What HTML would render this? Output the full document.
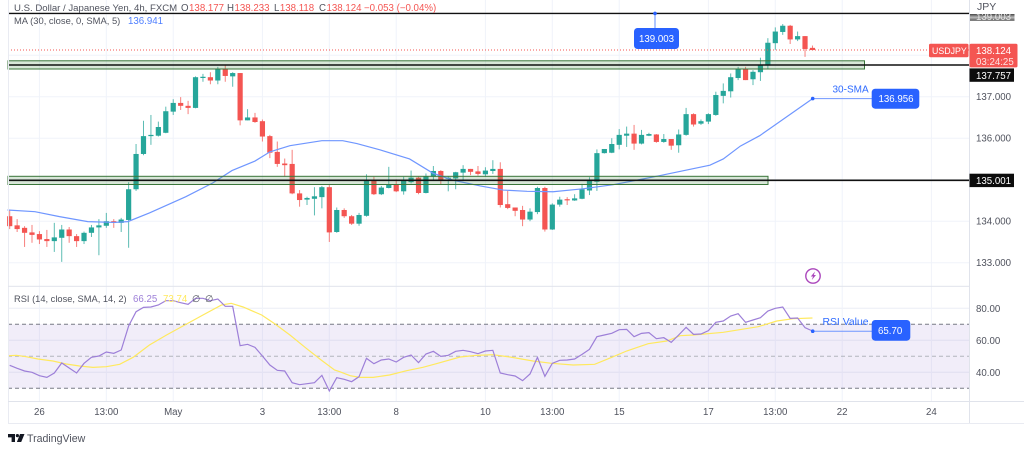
<!DOCTYPE html>
<html lang="en">
<head>
<meta charset="utf-8">
<title>USDJPY 4h chart</title>
<style>
html,body{margin:0;padding:0;background:#fff;width:1024px;height:452px;overflow:hidden}
svg{display:block;font-family:"Liberation Sans",sans-serif;filter:blur(0.3px)}
text{font-size:9.7px;fill:#50535e}
.w{fill:#fff}
.lbl{fill:#2f6bff}
</style>
</head>
<body>
<svg id="chart" xmlns="http://www.w3.org/2000/svg" width="1024" height="452" viewBox="0 0 1024 452">
  <g id="grid"></g>
  <rect x="8" y="324.3" width="961" height="64" fill="#9575cd" fill-opacity="0.13"/>
  <g id="rsi-guides" stroke-dasharray="4 3" stroke-width="1">
    <line x1="8" x2="969" y1="324.3" y2="324.3" stroke="#787b86"/>
    <line x1="8" x2="969" y1="356.3" y2="356.3" stroke="#b2b5be"/>
    <line x1="8" x2="969" y1="388.3" y2="388.3" stroke="#787b86"/>
  </g>
  <g id="candles"></g>
  <path id="ma-line" fill="none" stroke="#6f96ff" stroke-width="1.2"/>
  <path id="rsi-sma-line" fill="none" stroke="#ffe95e" stroke-width="1.2"/>
  <path id="rsi-line" fill="none" stroke="#9d7fd8" stroke-width="1.2"/>

  <line x1="8" x2="969" y1="50" y2="50" stroke="#f45552" stroke-width="1" stroke-dasharray="1 2"/>
  <rect x="8" y="60.8" width="856.5" height="8.2" fill="#4c8c4c" fill-opacity="0.22" stroke="#3a763a" stroke-width="1"/>
  <rect x="8" y="176.3" width="760" height="8.2" fill="#4c8c4c" fill-opacity="0.22" stroke="#3a763a" stroke-width="1"/>
  <line x1="8" x2="969" y1="13.4" y2="13.4" stroke="#111" stroke-width="1.4"/>
  <line x1="8" x2="969" y1="65" y2="65" stroke="#111" stroke-width="1.4"/>
  <line x1="8" x2="969" y1="180.3" y2="180.3" stroke="#111" stroke-width="1.6"/>

  <rect x="8" y="0" width="1" height="423" fill="#e9ebf2"/>
  <rect x="969" y="0" width="1" height="423" fill="#e0e3eb"/>
  <rect x="8" y="285.8" width="961" height="1" fill="#e0e3eb"/>
  <rect x="8" y="401" width="1016" height="1" fill="#e0e3eb"/>
  <rect x="8" y="423" width="1016" height="1" fill="#e9ebf2"/>

  <g>
    <text x="14" y="11" style="font-size:9.6px">U.S. Dollar / Japanese Yen, 4h, FXCM</text>
    <text x="181" y="11">O<tspan fill="#f45552" dx="0.5">138.177</tspan></text>
    <text x="227" y="11">H<tspan fill="#f45552" dx="0.5">138.233</tspan></text>
    <text x="274" y="11">L<tspan fill="#f45552" dx="0.5">138.118</tspan></text>
    <text x="319" y="11">C<tspan fill="#f45552" dx="0.5">138.124</tspan></text>
    <text x="364" y="11" style="fill:#f45552">−0.053 (−0.04%)</text>
    <text x="14" y="24" style="font-size:9.4px">MA (30, close, 0, SMA, 5)</text>
    <text x="128" y="24" style="fill:#4f7fff">136.941</text>
  </g>
  <g>
    <text x="14" y="302" style="font-size:9.3px">RSI (14, close, SMA, 14, 2)</text>
    <text x="133" y="302" style="fill:#9d7fd8">66.25</text>
    <text x="163" y="302" style="fill:#ffe95e">73.74</text>
    <text x="192" y="302">∅</text>
    <text x="205" y="302">∅</text>
  </g>

  <g id="price-axis"></g>
  <g id="rsi-axis"></g>
  <g id="time-axis"></g>
  <text x="977" y="10" style="font-size:10.5px">JPY</text>

  <g>
    <defs>
      <linearGradient id="clipFade" x1="0" y1="0" x2="0" y2="1">
        <stop offset="0" stop-color="#444"/><stop offset="0.5" stop-color="#bbb"/><stop offset="1" stop-color="#555"/>
      </linearGradient>
      <clipPath id="clip139"><rect x="969" y="14" width="46" height="7"/></clipPath>
    </defs>
    <rect x="970" y="14" width="44.5" height="6.8" fill="url(#clipFade)"/>
    <text clip-path="url(#clip139)" x="976" y="20" style="fill:#e6e6e6">139.003</text>
  </g>

  <g>
    <rect x="929" y="43.7" width="39.5" height="13.6" rx="1.5" fill="#f45552"/>
    <text class="w" x="932" y="54" style="font-size:8.8px">USDJPY</text>
    <rect x="969.5" y="43.7" width="48" height="23.7" rx="1.5" fill="#f45552"/>
    <text class="w" x="976" y="54">138.124</text>
    <text class="w" x="976" y="65" style="fill:#ffe2e1">03:24:25</text>
  </g>
  <g>
    <rect x="969.5" y="68.4" width="44.5" height="13.4" fill="#0c0c0c"/>
    <text class="w" x="976" y="78.8">137.757</text>
    <rect x="969.5" y="173.7" width="44.5" height="13.4" fill="#0c0c0c"/>
    <text class="w" x="976" y="184">135.001</text>
  </g>

  <g>
    <line x1="655" x2="655" y1="13.4" y2="28" stroke="#5f8cff" stroke-width="1"/>
    <circle cx="655" cy="13.4" r="1.8" fill="#2962ff"/>
    <rect x="634" y="28" width="45" height="21" rx="3.5" fill="#2962ff"/>
    <text class="w" x="639" y="42">139.003</text>
  </g>
  <g>
    <line x1="812.7" x2="872" y1="98.6" y2="98.6" stroke="#6f96ff" stroke-width="1"/>
    <circle cx="812.7" cy="98.6" r="1.8" fill="#2962ff"/>
    <text class="lbl" x="832.5" y="92.5" style="font-size:10px">30-SMA</text>
    <rect x="871.7" y="88.7" width="47.6" height="20" rx="3.5" fill="#2962ff"/>
    <text class="w" x="878.5" y="102">136.956</text>
  </g>
  <g>
    <line x1="812.7" x2="872" y1="331.2" y2="331.2" stroke="#6f96ff" stroke-width="1"/>
    <circle cx="812.7" cy="331.2" r="1.8" fill="#2962ff"/>
    <text class="lbl" x="822.5" y="325" style="font-size:10.4px">RSI Value</text>
    <rect x="871.7" y="320" width="38.6" height="20.7" rx="3.5" fill="#2962ff"/>
    <text class="w" x="878" y="334">65.70</text>
  </g>

  <g>
    <circle cx="813" cy="276" r="7.2" fill="#fff" stroke="#ab47bc" stroke-width="1.4"/>
    <path d="M815 271.5l-4.2 5h2.2l-1.2 3.5 4.2-5h-2.2z" fill="#ab47bc"/>
  </g>

  <g>
    <path d="M8 434h7v8h-3.4v-4.6H8zM20 434h4.5l-3.3 8h-4.3z" fill="#131722"/>
    <circle cx="17.4" cy="435.6" r="1.6" fill="#131722"/>
    <text x="27" y="442" style="font-size:10.6px;fill:#50535e">TradingView</text>
  </g>
</svg>
<script>
var opens = [134.12,133.90,133.84,133.73,133.69,133.57,133.52,133.60,133.80,133.64,133.52,133.72,133.85,133.89,134.00,133.96,134.03,134.77,135.62,136.05,136.06,136.13,136.64,136.85,136.78,136.73,137.47,137.47,137.39,137.68,137.49,137.57,136.43,136.50,136.41,136.05,135.67,135.39,135.38,134.67,134.52,134.54,134.58,134.82,133.74,134.27,134.12,133.94,134.13,134.97,134.65,134.80,134.88,134.72,134.94,135.05,134.68,135.07,135.21,135.02,135.03,135.17,135.26,135.20,135.13,135.21,135.26,134.41,134.33,134.27,134.04,134.22,134.80,133.80,134.40,134.53,134.50,134.54,134.74,134.95,135.64,135.65,135.84,136.06,136.11,135.87,136.06,136.09,135.91,135.98,135.83,136.08,136.58,136.35,136.40,136.56,137.02,137.13,137.45,137.67,137.42,137.59,137.75,138.29,138.56,138.71,138.38,138.46,138.177];
var highs = [134.27,134.05,133.88,133.91,133.76,133.79,133.96,133.91,133.86,133.69,133.75,133.91,134.05,134.20,134.05,134.08,134.94,135.86,136.42,136.56,136.40,136.76,136.94,136.99,136.90,137.49,137.55,137.59,137.72,137.76,137.59,137.57,136.70,136.61,136.45,136.08,135.92,135.51,135.72,134.75,134.59,134.82,134.85,134.87,134.33,134.31,134.15,134.20,135.13,135.07,134.85,135.31,135.01,135.07,135.22,135.07,135.15,135.33,135.23,135.09,135.19,135.35,135.26,135.33,135.30,135.47,135.42,134.73,134.33,134.37,134.31,134.83,134.83,134.43,134.59,134.58,134.65,134.90,135.06,135.73,135.74,136.00,136.22,136.28,136.32,136.20,136.13,136.10,136.10,135.98,136.21,136.73,136.60,136.45,136.60,137.12,137.32,137.56,137.72,137.72,137.64,137.94,138.41,138.67,138.75,138.73,138.57,138.46,138.233];
var lows = [133.81,133.74,133.38,133.48,133.45,133.38,133.26,133.02,133.48,133.38,133.45,133.62,133.18,133.84,133.84,133.74,133.36,134.73,135.59,135.84,136.04,136.12,136.56,136.68,136.58,136.72,137.36,137.30,137.30,137.36,137.24,136.31,136.43,136.37,135.92,135.52,135.31,135.07,134.65,134.35,134.39,134.14,134.31,133.50,133.72,134.08,133.91,133.89,134.11,134.63,134.63,134.79,134.70,134.64,134.91,134.65,134.67,134.98,134.89,134.72,134.77,134.98,135.11,135.10,135.07,135.14,134.33,134.29,134.12,133.88,134.00,134.17,133.75,133.79,134.35,134.39,134.49,134.53,134.63,134.73,135.63,135.64,135.73,135.79,135.72,135.85,136.05,135.89,135.89,135.72,135.65,136.06,136.28,136.32,136.34,136.54,136.84,136.98,137.40,137.40,137.28,137.38,137.68,138.13,138.49,138.27,138.34,137.96,138.118];
var closes = [133.88,133.81,133.72,133.67,133.56,133.52,133.61,133.80,133.64,133.52,133.72,133.85,133.90,134.00,133.96,134.04,134.77,135.62,136.05,136.08,136.27,136.65,136.85,136.78,136.73,137.47,137.48,137.39,137.68,137.50,137.57,136.43,136.50,136.39,136.04,135.65,135.38,135.35,134.67,134.51,134.56,134.60,134.82,133.73,134.27,134.12,133.94,134.15,134.97,134.65,134.81,134.88,134.72,134.97,135.05,134.68,135.08,135.21,134.99,135.05,135.18,135.26,135.19,135.14,135.22,135.26,134.39,134.32,134.25,134.04,134.23,134.80,133.80,134.40,134.52,134.51,134.55,134.77,134.97,135.64,135.74,135.86,136.08,136.11,135.87,136.08,136.10,135.91,135.98,135.82,136.09,136.58,136.33,136.41,136.58,137.04,137.14,137.47,137.68,137.40,137.60,137.76,138.30,138.57,138.71,138.38,138.46,138.15,138.124];

var maBars = [-0.3,3.4,6.7,10.5,14.1,15.9,18.8,23.7,27.3,29.9,33,35,35.9,37.7,42,44.8,46.7,49.8,53.8,56.9,59.6,63.3,66.4,69.6,73.1,77.1,81.2,84.4,87.5,94.2,96,98.3,100.9,108];
var maValues = [134.27,134.23,134.11,133.99,133.97,133.99,134.20,134.59,134.92,135.22,135.45,135.67,135.72,135.82,135.94,135.94,135.87,135.72,135.50,135.16,134.99,134.85,134.75,134.72,134.71,134.78,134.88,134.99,135.10,135.35,135.50,135.81,136.06,136.95];

var rsiValues = [44.35,42.48,40.81,39.98,37.89,36.85,39.56,45.81,42.69,39.56,45.60,49.35,50.19,52.69,51.85,53.94,68.94,77.89,80.60,80.81,82.06,84.77,84.77,83.52,82.48,86.23,86.23,84.77,85.81,81.23,81.23,56.64,57.48,55.60,50.19,44.56,41.23,40.81,33.52,32.27,32.89,33.52,38.10,28.31,36.65,35.60,34.14,37.27,48.73,45.39,47.69,48.31,46.44,49.35,50.81,46.02,51.43,53.10,49.98,50.60,53.10,53.73,52.89,51.64,53.31,53.73,39.56,38.52,37.69,34.77,38.94,49.35,37.48,45.60,47.48,47.69,48.31,51.23,54.35,62.27,63.31,64.35,66.64,66.85,62.27,64.35,64.77,61.02,61.64,58.73,63.31,68.10,63.73,63.94,66.02,71.23,72.06,75.19,76.64,71.23,72.69,74.14,78.31,79.98,80.81,73.73,73.94,67.89,65.81];

var smaBars = [-0.2,0.9,2.2,3.8,5.8,7.6,9.4,11.2,13,14.8,16.6,18.8,21.1,23.8,26,28.5,29.8,31.4,33.9,35.7,37.7,39.9,41.9,43.7,44.4,45.8,47.1,48.9,51.1,53.4,55.6,57.4,60.6,62.8,65,67.3,70.4,72.9,75.8,78.7,81,83,85.9,88.4,90.2,92,96,100.7,103.2,105.4,108];
var smaValues = [50.39,50.60,49.77,48.31,47.06,45.19,43.94,43.10,43.52,44.98,49.35,57.06,63.31,70.19,75.81,82.06,83.10,80.81,75.81,70.19,63.31,54.98,47.69,41.44,40.39,37.89,36.85,36.85,38.31,41.02,43.10,45.39,49.56,50.60,51.02,49.56,47.06,45.60,44.56,44.98,49.35,53.31,57.89,59.56,62.89,63.31,64.98,68.52,72.06,73.52,73.94];

var priceGridTicks = [139,138,137,136,135,134,133];
var priceAxisLabels = ["137.000","136.000","134.000","133.000"];
var rsiTicks = [80,60,40];
var rsiLabels = ["80.00","60.00","40.00"];
var timeBars = [4,13,22,34,43,52,64,73,82,94,103,112,124];
var timeLabels = ["26","13:00","May","3","13:00","8","10","13:00","15","17","13:00","22","24"];

var NS = 'http://www.w3.org/2000/svg';
function xBar(i){ return 9.7 + 7.433 * i; }
function yPrice(p){ return 96.7 + (137 - p) * 41.5; }
function yRsi(v){ return 356.3 - (v - 50) * 1.6; }
function make(tag, attrs, parent){
  var el = document.createElementNS(NS, tag);
  for (var k in attrs) el.setAttribute(k, attrs[k]);
  parent.appendChild(el);
  return el;
}
function linePath(xs, ys){
  var d = '';
  for (var i = 0; i < xs.length; i++) d += (i ? 'L' : 'M') + xs[i].toFixed(2) + ' ' + ys[i].toFixed(2);
  return d;
}

var grid = document.getElementById('grid');
priceGridTicks.forEach(function(p){
  var l = make('line', {x1:8, x2:969, y1:yPrice(p), y2:yPrice(p), stroke:'#f0f3fa', 'stroke-width':1}, grid);
  
  
});
rsiTicks.forEach(function(v){
  var l = make('line', {x1:8, x2:969, y1:yRsi(v), y2:yRsi(v), stroke:'#eceef5', 'stroke-width':1}, grid);
  
  
});
timeBars.forEach(function(b){
  var l = make('line', {x1:xBar(b), x2:xBar(b), y1:0, y2:401, stroke:'#f0f3fa', 'stroke-width':1}, grid);
  
  
});

var candleGroup = document.getElementById('candles');
function drawCandle(c){
  var up = closes[c] >= opens[c];
  var col = up ? '#26a69a' : '#f45552';
  var g = make('g', {}, candleGroup);
  
  
  var cx = xBar(c);
  make('rect', {x:cx - 0.5, width:1, y:yPrice(highs[c]), height:Math.max(0.5, yPrice(lows[c]) - yPrice(highs[c])), fill:col, 'fill-opacity':0.75}, g);
  var bodyTop = yPrice(Math.max(opens[c], closes[c]));
  var bodyBottom = yPrice(Math.min(opens[c], closes[c]));
  make('rect', {x:cx - 2.6, width:5.2, y:bodyTop, height:Math.max(1.2, bodyBottom - bodyTop), fill:col}, g);
}
opens.forEach(function(o, c){ drawCandle(c); });

document.getElementById('ma-line').setAttribute('d', linePath(maBars.map(xBar), maValues.map(yPrice)));
document.getElementById('rsi-sma-line').setAttribute('d', linePath(smaBars.map(xBar), smaValues.map(yRsi)));
document.getElementById('rsi-line').setAttribute('d', linePath(rsiValues.map(function(v, i){ return xBar(i); }), rsiValues.map(yRsi)));

var priceAxis = document.getElementById('price-axis');
priceAxisLabels.forEach(function(s){
  var t = make('text', {x:976, y:yPrice(parseFloat(s)) + 3.5}, priceAxis);
  
  
  t.textContent = s;
});
var rsiAxis = document.getElementById('rsi-axis');
rsiLabels.forEach(function(s, i){
  var t = make('text', {x:976, y:yRsi(rsiTicks[i]) + 3.5}, rsiAxis);
  
  
  t.textContent = s;
});
var timeAxis = document.getElementById('time-axis');
timeLabels.forEach(function(s, i){
  var t = make('text', {x:xBar(timeBars[i]), y:415, 'text-anchor':'middle'}, timeAxis);
  
  
  t.textContent = s;
});
</script>
</body>
</html>
